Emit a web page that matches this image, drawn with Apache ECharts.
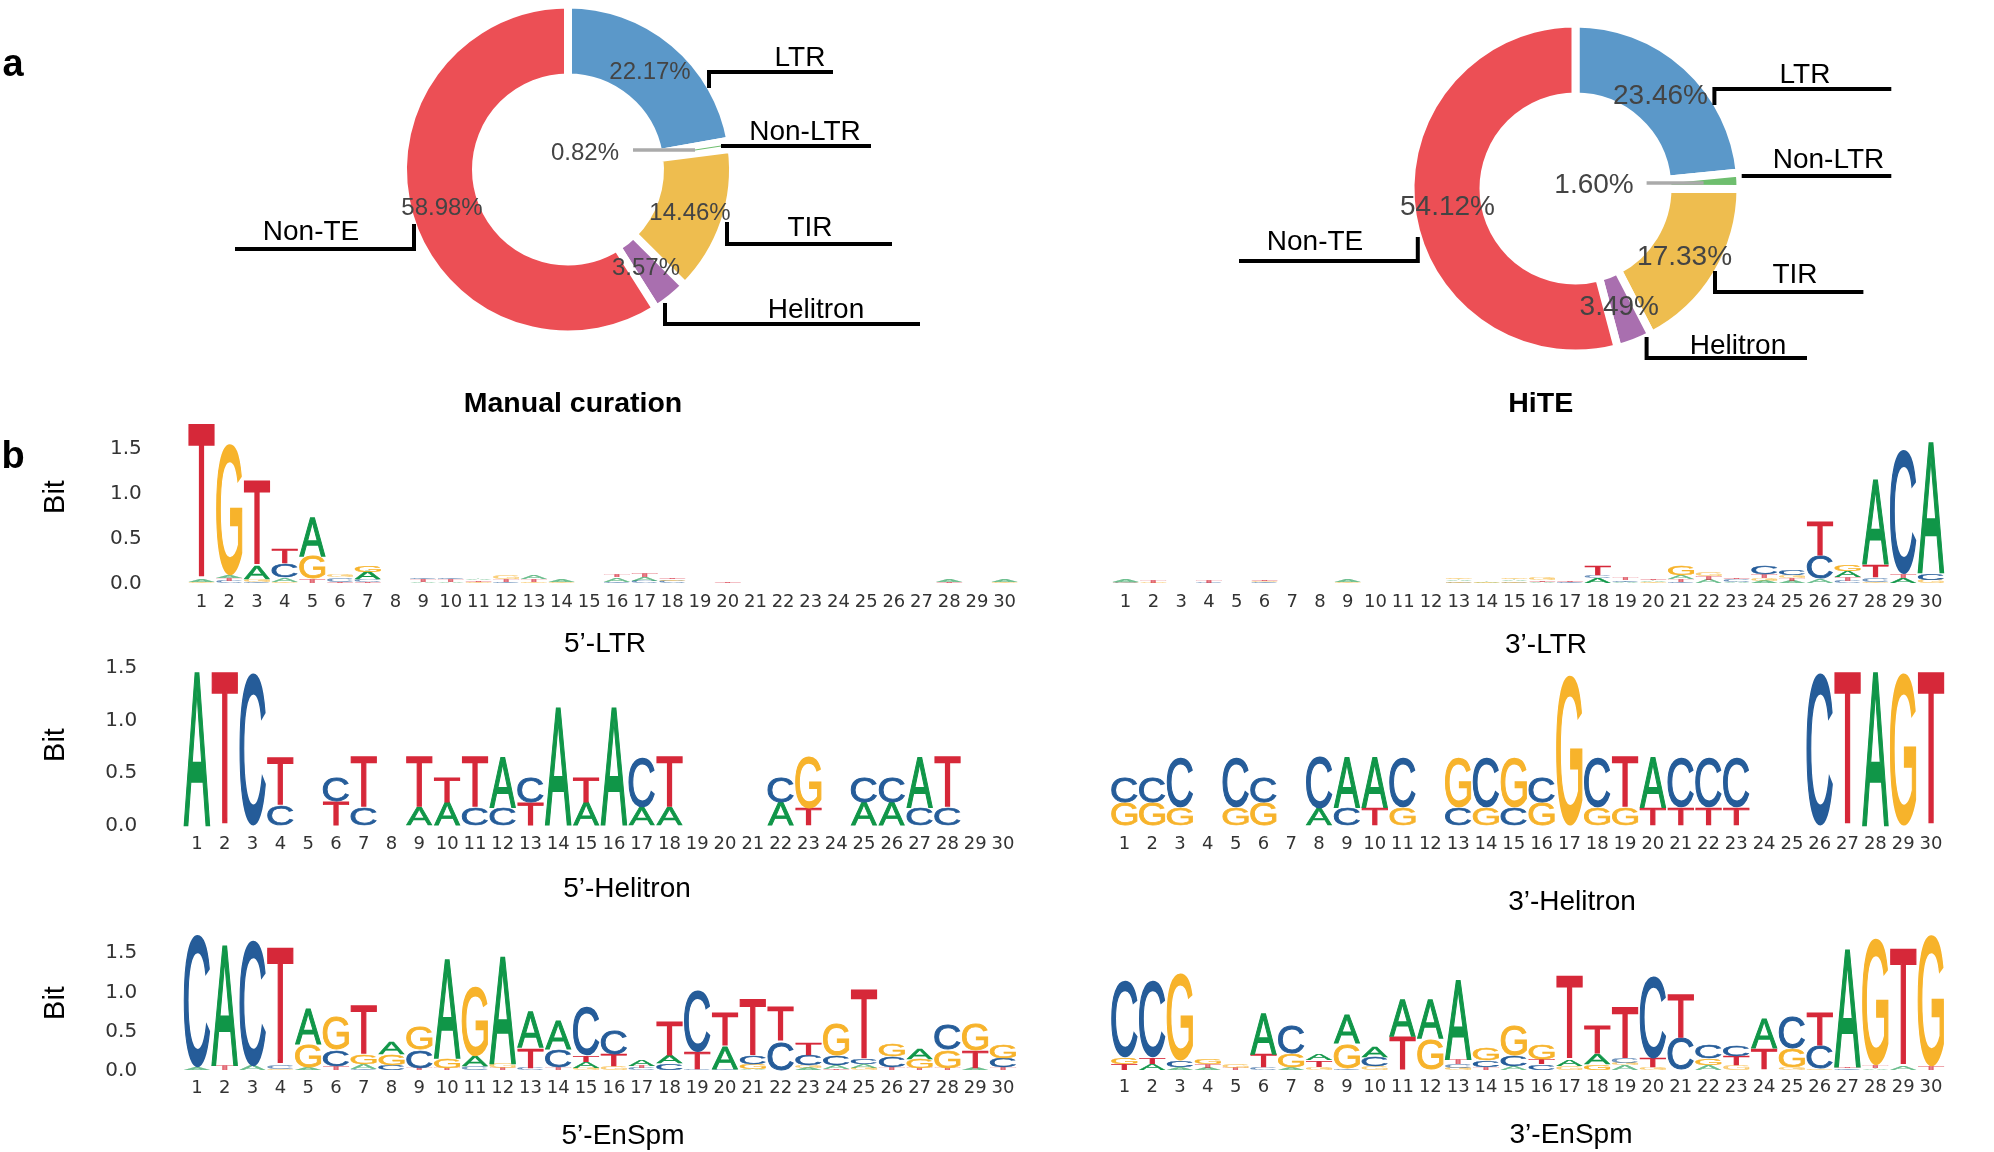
<!DOCTYPE html>
<html><head><meta charset="utf-8">
<style>html,body{margin:0;padding:0;background:#fff}#c{width:1994px;height:1152px}</style>
<script src="https://cdn.jsdelivr.net/npm/echarts@6/dist/echarts.min.js"></script>
</head><body><div id="c"></div>
<script>
const A='A',C='C',G='G',T='T';
// ---- donut data
const pieNames=['LTR','Non-LTR','TIR','Helitron','Non-TE'];
const pieColors=['#5B98C9','#6EBE6E','#EEBD4F','#A96FAF','#EC4F55'];
const manualValues=[22.17,0.82,14.46,3.57,58.98];
const hiteValues=[23.46,1.60,17.33,3.49,54.12];
// ---- sequence logo columns, each lists letter,height from the bottom up (bits)
const positions=Array.from({length:30},(_,i)=>String(i+1));
const ltr5=[
[G,.02,A,.03,T,1.73],[C,.03,T,.03,A,.03,G,1.46],[C,.02,G,.03,A,.15,T,.95],[G,.02,A,.05,C,.15,T,.16],[T,.05,G,.25,A,.44],
[T,.02,C,.05,G,.03],[T,.02,C,.03,A,.08,G,.08],[],[A,.02,T,.03,C,.02],[A,.02,T,.03,C,.02],
[G,.02,T,.02,A,.02],[C,.02,T,.03,G,.04],[G,.02,T,.03,A,.05],[G,.02,A,.03],[],
[C,.02,A,.05,T,.03],[C,.03,A,.04,T,.04],[C,.03,G,.02,T,.02],[],[T,.01],
[],[G,.005],[],[],[],[],[],[T,.02,A,.03],[],[G,.02,A,.03]];
const ltr3=[
[G,.01,C,.01,A,.03],[G,.01,T,.03],[],[C,.01,T,.03],[],[C,.02,G,.01,T,.02],[],[],[G,.02,A,.03],[],
[],[],[C,.01,G,.02,A,.02,G,.02],[A,.01,G,.02],[C,.01,G,.02,A,.02,G,.02],[A,.02,T,.02,G,.03],[C,.02,T,.02],[A,.06,C,.03,T,.1],[A,.02,C,.02,T,.03],[G,.02,A,.02,T,.02],
[C,.02,T,.03,A,.04,G,.1],[A,.04,T,.04,G,.04],[A,.02,C,.03,T,.02],[A,.03,G,.03,T,.04,C,.09],[A,.03,T,.03,G,.03,C,.06],[A,.05,C,.26,T,.39],[C,.03,T,.04,A,.07,G,.08],[G,.02,C,.05,T,.14,A,.94],[A,.06,T,.05,C,1.38],[G,.04,C,.07,A,1.46]];
const hel5=[
[A,1.46],[T,1.46],[C,1.46],[C,.19,T,.46],[],[T,.23,C,.23],[C,.17,T,.48],[],[A,.17,T,.48],[A,.22,T,.24],
[C,.17,T,.48],[C,.17,A,.48],[T,.22,C,.24],[A,1.12],[A,.22,T,.24],[A,1.12],[A,.17,C,.48],[A,.17,T,.48],[],[],
[],[A,.22,C,.24],[T,.16,G,.49],[],[A,.22,C,.24],[A,.22,C,.24],[C,.17,A,.48],[C,.17,T,.48],[],[]];
const hel3=[
[G,.22,C,.24],[G,.22,C,.24],[G,.17,C,.48],[],[G,.17,C,.48],[G,.22,C,.24],[],[A,.16,C,.49],[C,.17,A,.48],[T,.17,A,.48],
[G,.17,C,.48],[],[C,.17,G,.48],[G,.17,C,.48],[C,.17,G,.48],[G,.22,C,.24],[G,1.43],[G,.17,C,.48],[G,.17,T,.48],[T,.17,A,.48],
[T,.17,C,.48],[T,.17,C,.48],[T,.17,C,.48],[],[],[C,1.46],[T,1.46],[A,1.46],[G,1.46],[T,1.46]];
const ens5=[
[A,.04,C,1.69],[T,.06,A,1.54],[A,.06,C,1.6],[G,.02,C,.05,T,1.5],[A,.03,G,.3,A,.45],
[T,.05,C,.21,G,.43],[C,.02,A,.06,G,.12,T,.63],[C,.07,G,.14,A,.15],[T,.03,C,.23,G,.29],[T,.03,G,.12,A,1.28],
[C,.05,A,.13,G,.88],[T,.03,G,.06,A,1.37],[C,.03,T,.26,A,.46],[T,.04,C,.23,A,.37],[G,.03,A,.08,T,.08,C,.62],
[G,.05,T,.15,C,.31],[C,.03,T,.03,A,.09],[C,.09,A,.1,T,.44],[C,.01,T,.23,C,.78],[C,.02,A,.29,T,.43],
[A,.02,G,.065,C,.11,T,.72],[C,.37,T,.45],[A,.03,G,.03,C,.13,T,.16],[T,.02,A,.05,C,.12,G,.42],[G,.03,A,.05,C,.07,T,.89],
[T,.04,C,.14,G,.15],[T,.03,G,.12,A,.14],[T,.03,G,.23,C,.33],[A,.03,T,.22,G,.34],[T,.04,C,.12,G,.17]];
const ens3=[
[T,.08,G,.08,C,.98],[A,.08,T,.08,C,.98],[A,.03,C,.09,G,1.12],[A,.03,T,.05,G,.065],[T,.03,G,.05],
[C,.03,T,.17,A,.52],[A,.03,G,.17,C,.36],[G,.03,T,.09,A,.09],[C,.02,G,.32,A,.37],[G,.05,C,.12,A,.14],
[T,.43,A,.48],[G,.4,A,.51],[G,.03,C,.05,T,.06,A,1.02],[T,.03,C,.09,G,.15],[A,.05,C,.13,G,.4],
[C,.07,T,.07,G,.19],[G,.05,A,.09,T,1.06],[G,.07,A,.13,T,.36],[A,.06,G,.03,C,.06,T,.66],[G,.03,T,.12,C,1.04],
[C,.41,T,.57],[A,.06,G,.09,C,.17],[G,.06,T,.12,C,.13],[T,.27,A,.39],[G,.03,G,.24,C,.42],
[G,.02,C,.29,T,.43],[C,.02,T,.02,A,1.51],[A,.02,T,.04,G,1.63],[A,.05,T,1.5],[T,.05,G,1.67]];

// ---- layout of the panels
const F='"Liberation Sans", Arial, sans-serif';
const panels=[
 {cols:ltr5,first:201.6,last:1004.6,base:583.5,pxBit:89.7,max:2,margin:10,yLabels:true},
 {cols:ltr3,first:1125.6,last:1931,base:583.5,pxBit:89.7,max:2,margin:10,yLabels:false},
 {cols:hel5,first:197,last:1003,base:825.5,pxBit:105,max:1.5,margin:10,yLabels:true},
 {cols:hel3,first:1124.4,last:1931,base:825.5,pxBit:105,max:1.5,margin:10,yLabels:false},
 {cols:ens5,first:197,last:1003,base:1070.5,pxBit:78.2,max:2,margin:8.5,yLabels:true},
 {cols:ens3,first:1124.4,last:1931,base:1070,pxBit:78.2,max:2,margin:8.5,yLabels:false}];
const letterColor={A:'#109648',C:'#255C99',G:'#F7B32B',T:'#D62839'};
const letters=[A,C,G,T];
// measure each glyph's ink so it can be stretched to fill its stack box exactly
const glyphStroke=2.5, glyphFont='100px "Liberation Sans"';
const ink={};
{
  const ctx=document.createElement('canvas').getContext('2d');
  ctx.font=glyphFont;ctx.textAlign='center';ctx.textBaseline='middle';
  letters.forEach(l=>{const m=ctx.measureText(l),s=glyphStroke/2;
    ink[l]={w:m.actualBoundingBoxLeft+m.actualBoundingBoxRight+2*s,h:m.actualBoundingBoxAscent+m.actualBoundingBoxDescent+2*s,
      cx:(m.actualBoundingBoxRight-m.actualBoundingBoxLeft)/2,cy:(m.actualBoundingBoxDescent-m.actualBoundingBoxAscent)/2};});
}

const grid=[],xAxis=[],yAxis=[],series=[];
panels.forEach((p,k)=>{
  const bw=(p.last-p.first)/29;
  grid.push({left:p.first-bw/2,width:bw*30,top:p.base-p.pxBit*p.max,height:p.pxBit*p.max});
  xAxis.push({type:'category',gridIndex:k,data:positions,axisLine:{show:false},axisTick:{show:false},
    axisLabel:{interval:0,hideOverlap:false,margin:p.margin,color:'#333',fontSize:18,fontFamily:'"DejaVu Sans"'}});
  yAxis.push({type:'value',gridIndex:k,min:0,max:p.max,interval:.5,show:p.yLabels,splitLine:{show:false},
    axisLine:{show:false},axisTick:{show:false},
    axisLabel:{margin:46,color:'#333',fontSize:20,fontFamily:'"DejaVu Sans"',
      formatter:v=>v<=1.5?v.toFixed(1):''}});
  const data=[];
  p.cols.forEach((col,i)=>{let y=0;
    for(let j=0;j<col.length;j+=2){data.push([i,y,y+col[j+1],letters.indexOf(col[j])]);y+=col[j+1];}
  });
  series.push({type:'custom',xAxisIndex:k,yAxisIndex:k,coordinateSystem:'cartesian2d',clip:false,silent:true,
    encode:{x:0,y:[1,2]},data,
    renderItem(params,api){
      const a=api.coord([api.value(0),api.value(1)]),b=api.coord([api.value(0),api.value(2)]);
      const l=letters[api.value(3)],band=api.size([1,0])[0],m=ink[l];
      const h=Math.max(a[1]-b[1],.5),w=band*.95;
      const sy=h/m.h,sx=w/m.w;
      return {type:'text',x:a[0]-sx*m.cx,y:(a[1]+b[1])/2-sy*m.cy,scaleX:sx,scaleY:sy,
        style:{text:l,x:0,y:0,align:'center',verticalAlign:'middle',font:glyphFont,
          fill:letterColor[l],stroke:letterColor[l],lineWidth:glyphStroke,opacity:h<5?.6:1}};
    }});
});

function pie(center,values,labelPos,fs){
  return {type:'pie',center,radius:[92,165],startAngle:90,clockwise:true,silent:true,
    avoidLabelOverlap:false,z:2,
    data:pieNames.map((n,i)=>({name:n,value:values[i],itemStyle:{color:pieColors[i],borderColor:'#fff',borderWidth:8}})),
    label:{show:true,position:'inside',formatter:p=>p.value.toFixed(2)+'%',color:'#444',fontSize:fs,fontFamily:F},
    labelLine:{show:false},
    labelLayout:p=>({x:labelPos[p.dataIndex][0],y:labelPos[p.dataIndex][1],align:'center',verticalAlign:'middle'})};
}
series.push(pie([568,169.5],manualValues,[[650,72],[585,153],[690,213],[646,268],[442,208]],24));
series.push(pie([1575.5,188.5],hiteValues,[[1660.5,96],[1594,185],[1684.6,257],[1619.3,307],[1447.5,207]],28));

// ---- callouts and text
const g=[];
const txt=(s,x,y,o={})=>g.push({type:'text',z:10,x,y,rotation:o.rot||0,style:{text:s,x:0,y:0,align:'center',verticalAlign:'middle',
  font:(o.bold?'bold ':'')+(o.size||28)+'px '+F,fill:o.fill||'#000'}});
const line=(pts,w=4,c='#000')=>g.push({type:'polyline',z:10,shape:{points:pts},style:{stroke:c,lineWidth:w,fill:null,lineJoin:'miter'}});
// left donut
line([[709,88],[709,72],[833,72]]); txt('LTR',800,58.5);
line([[721,146],[871,146]]); txt('Non-LTR',805,132.5);
line([[695,150],[721,146]],1,'#6EBE6E'); line([[633,150],[695,150]],3.5,'#aaa');
line([[727,222],[727,244],[892,244]]); txt('TIR',810,228.5);
line([[665,303],[665,324],[920,324]]); txt('Helitron',816,310.5);
line([[235,249],[414,249],[414,224]]); txt('Non-TE',311,232.5);
// right donut
line([[1714.4,105],[1714.4,89],[1891.3,89]]); txt('LTR',1805,75.5);
line([[1741.7,176],[1891.3,176]]); txt('Non-LTR',1828.5,160.5);
line([[1646.6,183],[1703.6,183]],3.5,'#aaa');
line([[1715,271],[1715,292],[1863.4,292]]); txt('TIR',1795,275.5);
line([[1646.6,337],[1646.6,358],[1807,358]]); txt('Helitron',1738,346.5);
line([[1239,261],[1417.8,261],[1417.8,237]]); txt('Non-TE',1315,242.5);
txt('Manual curation',573,404.5,{bold:true,size:28.5}); txt('HiTE',1540.7,404.5,{bold:true,size:28.5});
txt('a',13,66,{bold:true,size:38}); txt('b',13,457.5,{bold:true,size:38});
[[497],[745],[1003]].forEach(([y])=>txt('Bit',56,y,{rot:Math.PI/2,size:29}));
txt('5’-LTR',605,644); txt('3’-LTR',1546,645);
txt('5’-Helitron',627,889); txt('3’-Helitron',1572,902);
txt('5’-EnSpm',623,1136); txt('3’-EnSpm',1571,1135);

const chart=echarts.init(document.getElementById('c'),null,{renderer:'canvas'});
chart.setOption({animation:false,backgroundColor:'#fff',grid,xAxis,yAxis,series,graphic:{elements:g}});
</script></body></html>
